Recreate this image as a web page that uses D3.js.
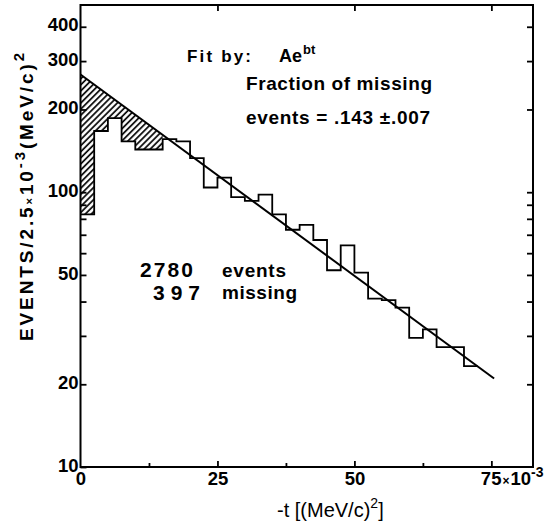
<!DOCTYPE html>
<html>
<head>
<meta charset="utf-8">
<script src="https://cdn.jsdelivr.net/npm/d3@7"></script>
<style>
body { margin: 0; background: #fff; }
svg { display: block; }
</style>
</head>
<body>
<svg id="chart" width="553" height="529"></svg>
<script>
// histogram: events per 2.5e-3 (MeV/c)^2 bin, starting at -t = 0
var binWidth = 2.5;
var counts = [83, 167, 186, 153, 143, 143, 156, 153, 133, 104, 113, 96, 93, 98, 83,
              73, 76, 67, 52, 64, 51, 41, 40.5, 38, 29.5, 31.7, 27.3, 27.3, 23.3];
// fit A e^{bt}, end points of the drawn line
var fitT = [0, 75.5];
var fitV = [268, 21];
var hatchEnd = 15;   // missing events region, 0..15

var yMajor = [10, 20, 50, 100, 200, 300, 400];
var yMinor = [30, 40, 60, 70, 80, 90];
var xMajor = [0, 25, 50, 75];
var xMinor = [12.5, 37.5, 62.5];

var L = 80.5, R = 533, T = 5, B = 467;
var svg = d3.select("#chart");
var x = d3.scaleLinear().domain([0, 82.6]).range([L, R]);
var y = d3.scaleLog().domain([10, 480]).range([B, T]);

var fitY = function(t) {
    var a = Math.log(fitV[0]), b = Math.log(fitV[1]);
    return Math.exp(a + (b - a) * (t - fitT[0]) / (fitT[1] - fitT[0]));
};

// hatch pattern
var pat = svg.append("defs").append("pattern")
    .attr("id", "hatch")
    .attr("patternUnits", "userSpaceOnUse")
    .attr("width", 4.3).attr("height", 10)
    .attr("patternTransform", "rotate(45)");
pat.append("line").attr("x1", 1).attr("y1", 0).attr("x2", 1).attr("y2", 10)
    .attr("stroke", "#000").attr("stroke-width", 1.7);

// hatched region between histogram and fit line
var pts = [[0, fitY(0)], [hatchEnd, fitY(hatchEnd)]];
for (var i = Math.round(hatchEnd / binWidth) - 1; i >= 0; i--) {
    pts.push([(i + 1) * binWidth, counts[i]]);
    pts.push([i * binWidth, counts[i]]);
}
svg.append("path")
    .attr("d", "M" + pts.map(function(p) { return x(p[0]) + "," + y(p[1]); }).join("L") + "Z")
    .attr("fill", "url(#hatch)");

// histogram outline
var steps = counts.map(function(c, i) { return [i * binWidth, c]; });
steps.push([counts.length * binWidth, counts[counts.length - 1]]);
svg.append("path")
    .attr("d", d3.line().x(function(d) { return x(d[0]); }).y(function(d) { return y(d[1]); })
        .curve(d3.curveStepAfter)(steps))
    .attr("fill", "none").attr("stroke", "#000").attr("stroke-width", 1.8);

// fit line
svg.append("path")
    .attr("d", d3.line().x(function(d) { return x(d); }).y(function(d) { return y(fitY(d)); })(fitT))
    .attr("fill", "none").attr("stroke", "#000").attr("stroke-width", 2);

// axes
var tickFont = function(g) {
    g.selectAll("text").attr("font-family", "Liberation Sans, Arial, sans-serif")
        .attr("font-weight", "bold").attr("font-size", 18.5).attr("fill", "#000");
    g.selectAll("line").attr("stroke", "#000").attr("stroke-width", 1.8);
    g.select(".domain").remove();
};

var yLeft = svg.append("g").attr("transform", "translate(" + L + ",0)")
    .call(d3.axisLeft(y).tickValues(yMajor.concat(yMinor)).tickSizeInner(-6).tickSizeOuter(0)
        .tickPadding(2).tickFormat(function(d) { return yMajor.indexOf(d) >= 0 ? d : ""; }))
    .call(tickFont);
yLeft.selectAll("text").attr("dy", "0.22em");

svg.append("g").attr("transform", "translate(" + R + ",0)")
    .call(d3.axisRight(y).tickValues([20, 30, 40, 50, 60, 70, 80, 90, 100, 200, 300, 400])
        .tickSizeInner(-6).tickSizeOuter(0).tickFormat(""))
    .call(tickFont);

svg.append("g").attr("transform", "translate(0," + T + ")")
    .call(d3.axisTop(x).tickValues([25, 50, 75]).tickSizeInner(-6).tickSizeOuter(0).tickFormat(""))
    .call(tickFont);

var xb = svg.append("g").attr("transform", "translate(0," + B + ")")
    .call(d3.axisBottom(x).tickValues(xMajor).tickSizeInner(-6).tickSizeOuter(0).tickPadding(5))
    .call(tickFont);
xb.selectAll(".tick").filter(function(d) { return d === 0; }).select("line").remove();
var t75 = xb.selectAll(".tick").filter(function(d) { return d === 75; }).select("text")
    .text(null).attr("text-anchor", "start").attr("x", -11);
t75.append("tspan").text("75");
t75.append("tspan").attr("font-size", 12).attr("dx", 1).text("×");
t75.append("tspan").attr("dx", 1).text("10");
t75.append("tspan").attr("font-size", 14).attr("dy", "-0.55em").text("-3");

svg.append("g").attr("transform", "translate(0," + B + ")")
    .call(d3.axisBottom(x).tickValues(xMinor).tickSizeInner(-4).tickSizeOuter(0).tickFormat(""))
    .call(tickFont);

// frame
svg.append("rect").attr("x", L).attr("y", T).attr("width", R - L).attr("height", B - T)
    .attr("fill", "none").attr("stroke", "#000").attr("stroke-width", 2);

// annotations
var font = "Liberation Sans, Arial, sans-serif";
var ann = function(tx, ty, s, size, len) {
    return svg.append("text").attr("x", tx).attr("y", ty)
        .attr("font-family", font).attr("font-weight", "bold").attr("font-size", size)
        .attr("textLength", len).attr("lengthAdjust", "spacing").text(s);
};
ann(187, 62, "Fit by:", 17, 64);
var ae = svg.append("text").attr("x", 279).attr("y", 62)
    .attr("font-family", font).attr("font-weight", "bold").attr("font-size", 18);
ae.append("tspan").text("Ae");
ae.append("tspan").attr("font-size", 13).attr("dy", -8).attr("dx", 1).text("bt");
ann(246, 90, "Fraction of missing", 19, 186);
ann(246, 124, "events = .143 \u00b1.007", 19, 184);
ann(140, 277, "2780", 21, 53);
ann(222, 277, "events", 19, 64);
ann(153, 300, "397", 21, 47);
ann(222, 299, "missing", 19, 75);

// y title
var yt = svg.append("text")
    .attr("transform", "translate(33,341) rotate(-90)")
    .attr("font-family", font).attr("font-weight", "bold").attr("font-size", 19)
    .attr("textLength", 288).attr("lengthAdjust", "spacing");
yt.append("tspan").text("EVENTS/2.5");
yt.append("tspan").attr("font-size", 11).text("×");
yt.append("tspan").text("10");
yt.append("tspan").attr("font-size", 15).attr("dy", -8).text("-3");
yt.append("tspan").attr("dy", 8).text("(MeV/c)");
yt.append("tspan").attr("font-size", 15).attr("dy", -9).text("2");

// x title
var xt = svg.append("text").attr("x", 277).attr("y", 517)
    .attr("font-family", font).attr("font-size", 20);
xt.append("tspan").text("-t [(MeV/c)");
xt.append("tspan").attr("font-size", 14).attr("dy", -9).text("2");
xt.append("tspan").attr("dy", 9).text("]");
</script>
</body>
</html>
